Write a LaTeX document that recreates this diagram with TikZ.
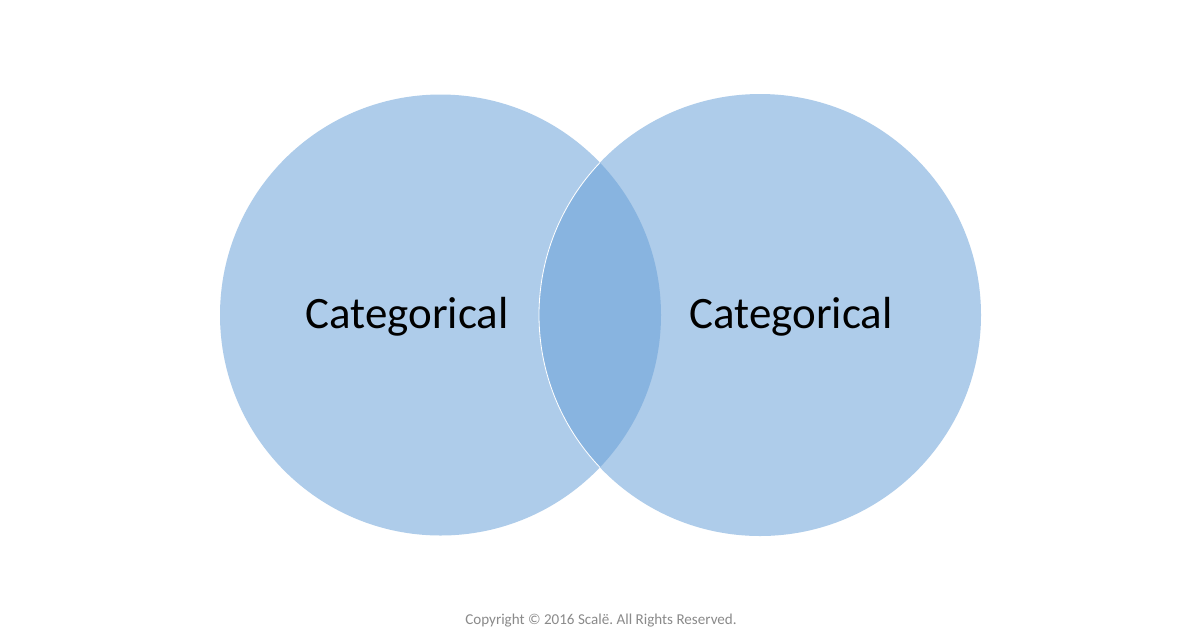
\documentclass[tikz,border=0pt]{standalone}
\usepackage{fontspec}
\setmainfont{Carlito}
\usetikzlibrary{positioning}
\frenchspacing

\begin{document}
\begin{tikzpicture}[x=0.0254cm, y=-0.0254cm]
  \definecolor{setfill}{HTML}{AECCEA}
  \definecolor{lensfill}{HTML}{88B4E0}
  \definecolor{note}{HTML}{8A8A8A}
  \tikzset{
    setlabel/.style={font=\fontsize{32.5}{38}\selectfont, text=black},
  }
  \useasboundingbox[fill=white] (0,0) rectangle (1200,630);

  \coordinate (lc) at (440.5,315);
  \coordinate (rc) at (760,315);
  \fill[setfill] (lc) circle (220.5);
  \fill[setfill] (rc) circle (221);
  % overlap of the two sets
  \begin{scope}
    \clip (lc) circle (220.5);
    \fill[lensfill] (rc) circle (221);
    \draw[white, line width=0.6pt] (rc) circle (221);
  \end{scope}

  \node[setlabel] (left) at (407,317) {Categorical};
  \node[setlabel] (right) at (791,317) {Categorical};
  \node[font=\fontsize{10.9}{13}\selectfont, text=note] (copy) at (601,621) {Copyright © 2016 Scalë. All Rights Reserved.};
\end{tikzpicture}
\end{document}
